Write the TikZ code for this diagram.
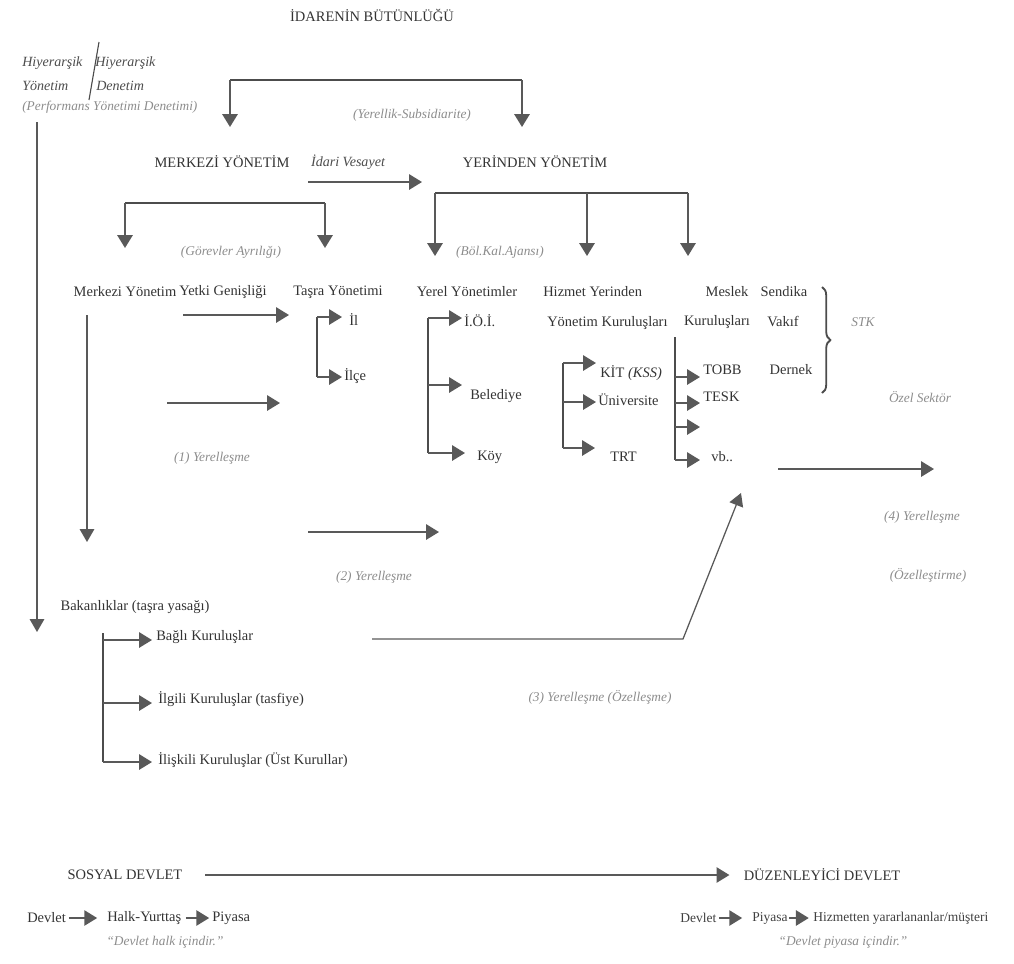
\documentclass[tikz,border=0pt]{standalone}
\usepackage{fontspec}
\setmainfont{Liberation Serif}
\usetikzlibrary{arrows.meta,decorations.pathreplacing,positioning}

\tikzset{
  texte/.style={text=black!80, inner sep=0pt, font=\fontsize{10.3}{12}\selectfont},
  petit/.style={text=black!75, inner sep=0pt, font=\fontsize{9.6}{11}\selectfont},
  penche/.style={text=black!70, inner sep=0pt, font=\fontsize{10}{12}\selectfont\itshape},
  note/.style={text=black!45, inner sep=0pt, font=\fontsize{9.5}{11}\selectfont\itshape},
  fleche/.style={-{Triangle[length=3.2mm,width=3.8mm]}, draw=black!65, line width=1.3pt},
  fine/.style={-{Triangle[length=3.2mm,width=3.6mm]}, draw=black!65, line width=0.9pt},
  trait/.style={draw=black!70, line width=1.5pt},
}

\begin{document}
\begin{tikzpicture}[x=0.025cm, y=-0.025cm]
 \useasboundingbox (0,0) rectangle (1014,963);

 %%%%%%%%%% Titre %%%%%%%%%%
 \node[texte] (titre) at (372,15) {İDARENİN BÜTÜNLÜĞÜ};

 %%%%%%%%%% Hiyerarsik %%%%%%%%%%
 \node[penche, anchor=west] (hy1) at (22,63) {Hiyerarşik};
 \node[penche, anchor=west] (hy2) at (95,63) {Hiyerarşik};
 \node[penche, anchor=west] (yon) at (22,86) {Yönetim};
 \node[penche, anchor=west] (den) at (96,86) {Denetim};
 \node[note, anchor=west] (perf) at (22,107) {(Performans Yönetimi Denetimi)};
 \coordinate (s0) at (99,42);
 \coordinate (s1) at (89,100);
 \draw[black!70, line width=0.8pt] (s0) -- (s1);

 %%%%%%%%%% Niveau 1 %%%%%%%%%%
 \node[texte] (merk) at (222,162) {MERKEZİ YÖNETİM};
 \node[penche] (vesa) at (348,162) {İdari Vesayet};
 \node[texte] (yer) at (535,162) {YERİNDEN YÖNETİM};
 \node[note] (sub) at (412,115) {(Yerellik-Subsidiarite)};

 % crochet du haut
 \coordinate (h0) at (230,80);
 \coordinate (h1) at (522,80);
 \draw[trait] (h0) -- (h1);
 \draw[fleche] (h0) -- ++(0,47);
 \draw[fleche] (h1) -- ++(0,47);

 % vesayet
 \coordinate (v0) at (308,182);
 \draw[fleche] (v0) -- ++(114,0);

 %%%%%%%%%% Crochets niveau 2 %%%%%%%%%%
 \coordinate (m0) at (125,203);
 \coordinate (m1) at (325,203);
 \draw[trait] (m0) -- (m1);
 \draw[fleche] (m0) -- ++(0,45);
 \draw[fleche] (m1) -- ++(0,45);

 \coordinate (r0) at (435,193);
 \coordinate (r1) at (587,193);
 \coordinate (r2) at (688,193);
 \draw[trait] (r0) -- (r2);
 \draw[fleche] (r0) -- ++(0,63);
 \draw[fleche] (r1) -- ++(0,63);
 \draw[fleche] (r2) -- ++(0,63);

 \node[note] (gor) at (231,252) {(Görevler Ayrılığı)};
 \node[note] (bka) at (500,252) {(Böl.Kal.Ajansı)};

 %%%%%%%%%% Niveau 2 %%%%%%%%%%
 \node[texte] (mer2) at (125,292) {Merkezi Yönetim};
 \node[texte] (yg) at (223,292) {Yetki Genişliği};
 \node[texte] (tas) at (338,292) {Taşra Yönetimi};
 \node[texte] (yy) at (467,292) {Yerel Yönetimler};
 \node[texte, anchor=west] (hiz) at (543,292) {Hizmet Yerinden};
 \node[texte, anchor=west] (hiz2) at (547,323) {Yönetim Kuruluşları};
 \node[texte] (mes) at (727,292) {Meslek};
 \node[texte] (mes2) at (717,322) {Kuruluşları};
 \node[texte] (sen) at (784,292) {Sendika};
 \node[texte] (vak) at (783,322) {Vakıf};
 \node[texte] (der) at (791,370) {Dernek};
 \draw[black!70, line width=1.3pt, decorate, decoration={brace, amplitude=6pt}] (822,287) -- (822,393);
 \node[note] (stk) at (863,322) {STK};
 \node[note] (ozel) at (920,397) {Özel Sektör};

 %%%%%%%%%% Merkezi / Tasra %%%%%%%%%%
 \coordinate (mk) at (87,315);
 \draw[fine] (mk) -- ++(0,227);
 \coordinate (yk0) at (183,315);
 \draw[fleche] (yk0) -- ++(106,0);

 \coordinate (t0) at (317,317);
 \coordinate (t1) at (317,377);
 \draw[trait] (t0) -- (t1);
 \draw[fleche] (t0) -- ++(25,0);
 \draw[fleche] (t1) -- ++(25,0);
 \node[texte, anchor=west] (il) at (349,320) {İl};
 \node[texte, anchor=west] (ilce) at (344,376) {İlçe};

 %%%%%%%%%% Yerel Yonetimler %%%%%%%%%%
 \coordinate (ya) at (428,318);
 \coordinate (yb) at (428,385);
 \coordinate (yc) at (428,453);
 \draw[trait] (ya) -- (yc);
 \draw[fleche] (ya) -- ++(34,0);
 \draw[fleche] (yb) -- ++(34,0);
 \draw[fleche] (yc) -- ++(37,0);
 \node[texte, anchor=west] (ioi) at (464,321) {İ.Ö.İ.};
 \node[texte, anchor=west] (bel) at (470,396) {Belediye};
 \node[texte, anchor=west] (koy) at (477,457) {Köy};

 %%%%%%%%%% Hizmet Yerinden %%%%%%%%%%
 \coordinate (ha) at (563,363);
 \coordinate (hb) at (563,402);
 \coordinate (hc) at (563,448);
 \draw[trait] (ha) -- (hc);
 \draw[fleche] (ha) -- ++(33,0);
 \draw[fleche] (hb) -- ++(33,0);
 \draw[fleche] (hc) -- ++(32,0);
 \node[texte, anchor=west] (kit) at (600,373) {KİT \textit{(KSS)}};
 \node[texte, anchor=west] (uni) at (598,400) {Üniversite};
 \node[texte, anchor=west] (trt) at (610,457) {TRT};

 %%%%%%%%%% Meslek %%%%%%%%%%
 \coordinate (ka) at (675,337);
 \coordinate (kb) at (675,377);
 \coordinate (kc) at (675,403);
 \coordinate (kd) at (675,427);
 \coordinate (ke) at (675,460);
 \draw[trait] (ka) -- (ke);
 \foreach \k in {kb,kc,kd,ke}
   \draw[fleche] (\k) -- ++(25,0);
 \node[texte, anchor=west] (tobb) at (703,370) {TOBB};
 \node[texte, anchor=west] (tesk) at (703,397) {TESK};
 \node[texte, anchor=west] (vb) at (711,457) {vb..};

 %%%%%%%%%% Yerellesme %%%%%%%%%%
 \coordinate (e1) at (167,403);
 \draw[fleche] (e1) -- ++(113,0);
 \node[note] (y1) at (212,458) {(1) Yerelleşme};

 \coordinate (e2) at (308,532);
 \draw[fleche] (e2) -- ++(131,0);
 \node[note] (y2) at (374,577) {(2) Yerelleşme};

 \coordinate (e3) at (372,639);
 \coordinate (e3b) at (683,639);
 \coordinate (e3c) at (741,493);
 \draw[fine] (e3) -- (e3b) -- (e3c);
 \node[note] (y3) at (600,697) {(3) Yerelleşme (Özelleşme)};

 \coordinate (e4) at (778,469);
 \draw[fleche] (e4) -- ++(156,0);
 \node[note] (y4) at (922,517) {(4) Yerelleşme};
 \node[note] (ozl) at (928,575) {(Özelleştirme)};

 %%%%%%%%%% Bakanliklar %%%%%%%%%%
 \coordinate (g0) at (37,122);
 \draw[fine] (g0) -- ++(0,510);
 \node[texte] (bak) at (135,607) {Bakanlıklar (taşra yasağı)};
 \coordinate (ba) at (103,633);
 \coordinate (bb) at (103,640);
 \coordinate (bc) at (103,703);
 \coordinate (bd) at (103,762);
 \draw[trait] (ba) -- (bd);
 \foreach \k in {bb,bc,bd}
   \draw[fleche] (\k) -- ++(49,0);
 \node[texte, anchor=west] (bagli) at (156,637) {Bağlı Kuruluşlar};
 \node[texte, anchor=west] (ilgili) at (158,699) {İlgili Kuruluşlar (tasfiye)};
 \node[texte, anchor=west] (iliskili) at (158,760) {İlişkili Kuruluşlar (Üst Kurullar)};

 %%%%%%%%%% Sosyal / Duzenleyici %%%%%%%%%%
 \node[texte] (sos) at (125,875) {SOSYAL DEVLET};
 \node[texte] (duz) at (822,875) {DÜZENLEYİCİ DEVLET};
 \draw[fleche] ([xshift=16pt]sos.east) -- ([xshift=-10pt]duz.west);

 \node[texte, anchor=west] (dv1) at (27,918) {Devlet};
 \node[texte, anchor=west] (halk) at (107,918) {Halk-Yurttaş};
 \node[texte, anchor=west] (piy1) at (212,918) {Piyasa};
 \draw[fleche] ([xshift=2pt]dv1.east) -- ([xshift=-7pt]halk.west);
 \draw[fleche] ([xshift=3pt]halk.east) -- ([xshift=-2pt]piy1.west);
 \node[note] (q1) at (165,942) {“Devlet halk içindir.”};

 \node[petit, anchor=west] (dv2) at (680,918) {Devlet};
 \node[petit, anchor=west] (piy2) at (752,918) {Piyasa};
 \node[petit, anchor=west] (hyr) at (813,918) {Hizmetten yararlananlar/müşteri};
 \draw[fleche] ([xshift=2pt]dv2.east) -- ([xshift=-7pt]piy2.west);
 \draw[fleche] ([xshift=1pt]piy2.east) -- ([xshift=-3pt]hyr.west);
 \node[note] (q2) at (843,942) {“Devlet piyasa içindir.”};

\end{tikzpicture}
\end{document}
